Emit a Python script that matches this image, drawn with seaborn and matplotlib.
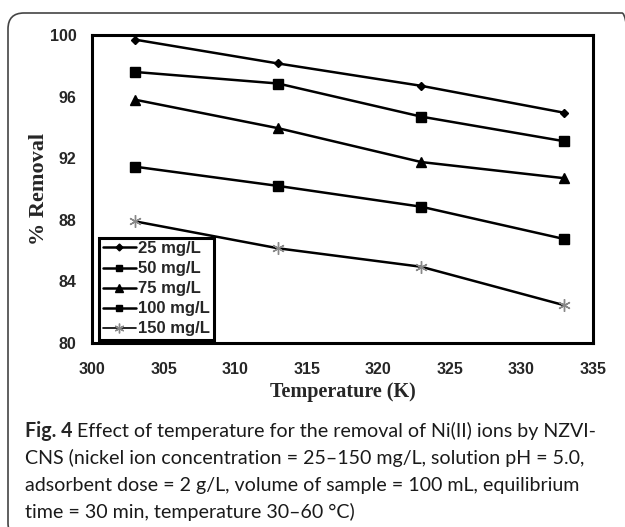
import matplotlib
matplotlib.use("Agg")
import matplotlib.pyplot as plt
import pandas as pd
import seaborn as sns
from matplotlib.patches import FancyBboxPatch
from matplotlib.transforms import IdentityTransform

temps = [303, 313, 323, 333]
conc_labels = ["25 mg/L", "50 mg/L", "75 mg/L", "100 mg/L", "150 mg/L"]
removal_25 = [99.7, 98.15, 96.7, 94.95]
removal_50 = [97.6, 96.85, 94.7, 93.1]
removal_75 = [95.8, 93.95, 91.75, 90.7]
removal_100 = [91.45, 90.2, 88.85, 86.75]
removal_150 = [87.9, 86.15, 84.95, 82.45]
x_ticks = [300, 305, 310, 315, 320, 325, 330, 335]
y_ticks = [80, 84, 88, 92, 96, 100]

caption_bold = "Fig. 4"
caption_lines = [
    " Effect of temperature for the removal of Ni(II) ions by NZVI-",
    "CNS (nickel ion concentration = 25\u2013150 mg/L, solution pH = 5.0,",
    "adsorbent dose = 2 g/L, volume of sample = 100 mL, equilibrium",
    "time = 30 min, temperature 30\u201360 \u00b0C)",
]

series = [removal_25, removal_50, removal_75, removal_100, removal_150]
df = pd.DataFrame({"Temperature": temps})
for lab, vals in zip(conc_labels, series):
    df[lab] = vals

sns.set_style("white")
plt.rcParams["font.family"] = ["DejaVu Sans"]

W, H = 625, 527
fig = plt.figure(figsize=(W / 100, H / 100), dpi=100)
# axes box: x 92..593, y 35..343 (pixels from top)
ax = fig.add_axes([92 / W, 1 - 343 / H, 501 / W, 308 / H])

# marker, size in plot, size in legend, edge colour per series
marker_style = {
    "25 mg/L": ("D", 4.5, 3.5, "black"),
    "50 mg/L": ("s", 6.5, 5, "black"),
    "75 mg/L": ("^", 7, 5.5, "black"),
    "100 mg/L": ("s", 6.5, 5, "black"),
    "150 mg/L": ((6, 2, 0), 9, 7, "#888888"),
}
for lab in conc_labels:
    m, ms, _, mec = marker_style[lab]
    sns.lineplot(data=df, x="Temperature", y=lab, color="black", linewidth=1.8,
                 marker=m, markersize=ms, markeredgecolor=mec,
                 markeredgewidth=1.0, ax=ax, label=lab)

ax.set_xlim(300, 335)
ax.set_ylim(80, 100)
ax.set_xticks(x_ticks)
ax.set_yticks(y_ticks)
ax.tick_params(axis="x", length=0, pad=14)
ax.tick_params(axis="y", length=0, pad=11)
for lab in ax.get_xticklabels() + ax.get_yticklabels():
    lab.set_family("Liberation Sans")
    lab.set_fontweight("bold")
    lab.set_fontsize(11.5)
for sp in ax.spines.values():
    sp.set_visible(True)
    sp.set_color("black")
    sp.set_linewidth(2.2)

ax.set_xlabel("Temperature (K)", family="Liberation Serif", fontweight="bold",
              fontsize=14.5, labelpad=3)
ax.set_ylabel("% Removal", family="Liberation Serif", fontweight="bold",
              fontsize=16, labelpad=1)

leg = ax.legend(loc="lower left", bbox_to_anchor=(7 / 501, 3 / 308),
                borderaxespad=0.0, frameon=True, fancybox=False,
                handlelength=2.0, handletextpad=0.15, labelspacing=0.3,
                borderpad=0.22,
                prop={"family": "Liberation Sans", "weight": "bold", "size": 12})
leg.get_frame().set_edgecolor("black")
leg.get_frame().set_linewidth(2.2)
leg.get_frame().set_alpha(1)
for h, lab in zip(leg.legend_handles, conc_labels):
    h.set_markersize(marker_style[lab][2])
    if lab == "150 mg/L":
        h.set_linewidth(1.2)

# rounded frame around the whole panel (pixel coordinates, origin bottom-left)
border = FancyBboxPatch((8, -12), 630, H - 13 + 12,
                        boxstyle="round,pad=0,rounding_size=16",
                        transform=IdentityTransform(), fill=False,
                        edgecolor="#444444", linewidth=1.2, clip_on=False)
fig.patches.append(border)

# caption: bold lead-in followed by regular text, sized to fit the panel width
cap_font = "Lato"
size = 14
baselines = [437, 464, 491, 518]
t_bold = fig.text(25 / W, 1 - baselines[0] / H, caption_bold, family=cap_font,
                  fontweight="bold", fontsize=size, va="baseline", ha="left")
fig.canvas.draw()
renderer = fig.canvas.get_renderer()
bb = t_bold.get_window_extent(renderer)
t_first = fig.text(bb.x1 / W, 1 - baselines[0] / H, caption_lines[0],
                   family=cap_font, fontsize=size, va="baseline", ha="left",
                   color="#1a1a1a")
end = t_first.get_window_extent(renderer).x1
scale = (598 - 25) / (end - 25)
size = size * scale
t_bold.set_fontsize(size)
fig.canvas.draw()
bb = t_bold.get_window_extent(renderer)
t_first.set_fontsize(size)
t_first.set_x(bb.x1 / W)
for line, yb in zip(caption_lines[1:], baselines[1:]):
    fig.text(25 / W, 1 - yb / H, line, family=cap_font, fontsize=size,
             va="baseline", ha="left", color="#1a1a1a")

fig.savefig("out.png", dpi=100)
